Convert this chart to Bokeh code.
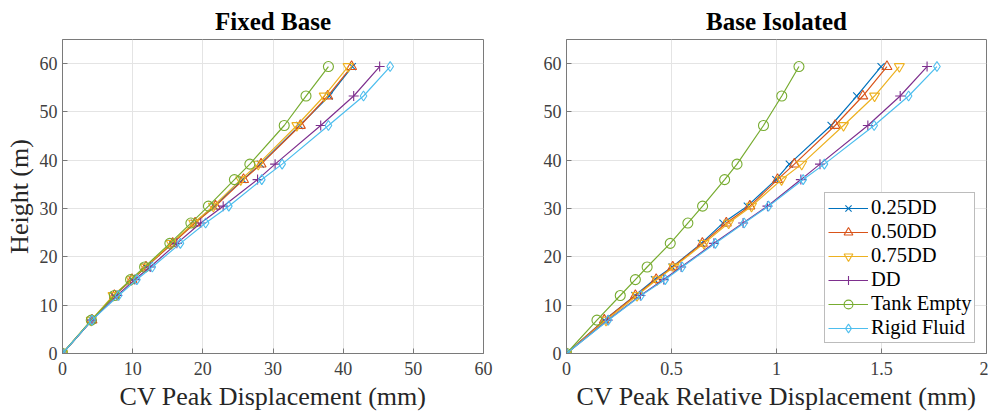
from bokeh.plotting import figure
from bokeh.layouts import row
from bokeh.models import Range1d, FixedTicker, Legend, LegendItem
from bokeh.embed import file_html
from bokeh.resources import INLINE

heights = [0, 6.9, 12.0, 15.3, 17.9, 22.8, 27.0, 30.5, 36.0, 39.2, 47.2, 53.3, 59.4]

series_names = ["0.25DD", "0.50DD", "0.75DD", "DD", "Tank Empty", "Rigid Fluid"]
series_colors = ["#0072BD", "#D95319", "#EDB120", "#7E2F8E", "#77AC30", "#4DBEEE"]
series_markers = ["x", "triangle", "inverted_triangle", "cross", "circle", "diamond"]

fixed_025 = [0, 4.2, 7.3, 9.9, 11.9, 15.6, 18.8, 21.6, 25.7, 28.2, 33.8, 38.0, 41.3]
fixed_050 = [0, 4.2, 7.4, 9.9, 11.9, 15.7, 18.9, 21.8, 25.8, 28.3, 33.9, 37.8, 41.2]
fixed_075 = [0, 4.1, 7.2, 9.8, 11.8, 15.5, 18.7, 21.5, 25.4, 27.9, 33.4, 37.3, 40.7]
fixed_dd = [0, 4.2, 7.8, 10.3, 12.5, 16.3, 19.7, 22.9, 27.8, 30.3, 36.8, 41.5, 45.2]
fixed_empty = [0, 4.1, 7.4, 9.7, 11.7, 15.3, 18.3, 20.8, 24.5, 26.7, 31.6, 34.7, 37.9]
fixed_rigid = [0, 4.2, 8.0, 10.6, 12.8, 16.8, 20.4, 23.7, 28.4, 31.3, 37.9, 42.9, 46.7]

iso_025 = [0, 0.180, 0.326, 0.419, 0.503, 0.642, 0.745, 0.861, 0.997, 1.061, 1.260, 1.382, 1.498]
iso_050 = [0, 0.180, 0.328, 0.427, 0.506, 0.647, 0.761, 0.873, 1.005, 1.085, 1.279, 1.411, 1.526]
iso_075 = [0, 0.188, 0.336, 0.431, 0.511, 0.655, 0.772, 0.881, 1.024, 1.120, 1.319, 1.467, 1.585]
iso_dd = [0, 0.196, 0.352, 0.463, 0.546, 0.702, 0.841, 0.957, 1.116, 1.207, 1.435, 1.589, 1.717]
iso_empty = [0, 0.145, 0.256, 0.328, 0.384, 0.494, 0.578, 0.648, 0.753, 0.812, 0.938, 1.025, 1.107]
iso_rigid = [0, 0.199, 0.355, 0.470, 0.551, 0.709, 0.846, 0.962, 1.127, 1.228, 1.465, 1.629, 1.764]

fixed_series = [fixed_025, fixed_050, fixed_075, fixed_dd, fixed_empty, fixed_rigid]
iso_series = [iso_025, iso_050, iso_075, iso_dd, iso_empty, iso_rigid]

FONT = "Liberation Serif"
AXIS_COL = "#7a7a7a"
TEXT_COL = "#262626"


def style(p, xlabel, ylabel, xticks, xtick_labels):
    p.title.text_font = FONT
    p.title.text_font_size = "25px"
    p.title.text_font_style = "bold"
    p.title.align = "center"
    p.title.text_color = "black"
    p.outline_line_color = AXIS_COL
    p.outline_line_width = 1
    p.xaxis.ticker = FixedTicker(ticks=xticks)
    p.xaxis.major_label_overrides = {t: l for t, l in zip(xticks, xtick_labels)}
    p.yaxis.ticker = FixedTicker(ticks=[0, 10, 20, 30, 40, 50, 60])
    for ax in (p.xaxis[0], p.yaxis[0]):
        ax.axis_line_color = AXIS_COL
        ax.major_tick_line_color = AXIS_COL
        ax.major_tick_in = 5
        ax.major_tick_out = 0
        ax.minor_tick_line_color = None
        ax.major_label_text_font = FONT
        ax.major_label_text_font_size = "18px"
        ax.major_label_text_font_style = "normal"
        ax.major_label_text_color = "#404040"
        ax.axis_label_text_font = FONT
        ax.axis_label_text_font_size = "26px"
        ax.axis_label_text_font_style = "normal"
        ax.axis_label_text_color = TEXT_COL
    p.xaxis.axis_label = xlabel
    p.xaxis.major_label_standoff = 8
    p.xaxis.axis_label_standoff = 4
    p.yaxis.major_label_standoff = 5
    p.yaxis.axis_label_standoff = 3
    if ylabel:
        p.yaxis.axis_label = ylabel
    p.grid.grid_line_color = "#e4e4e4"
    p.grid.grid_line_width = 1


p1 = figure(output_backend="svg", toolbar_location=None, title="Fixed Base",
            frame_width=421, frame_height=314,
            min_border_left=62, min_border_right=12, min_border_top=39, min_border_bottom=60,
            x_range=Range1d(0, 60), y_range=Range1d(0, 65))
style(p1, "CV Peak Displacement (mm)", "Height (m)",
      [0, 10, 20, 30, 40, 50, 60], ["0", "10", "20", "30", "40", "50", "60"])

p2 = figure(output_backend="svg", toolbar_location=None, title="Base Isolated",
            frame_width=420, frame_height=314,
            min_border_left=71, min_border_right=2, min_border_top=39, min_border_bottom=60,
            x_range=Range1d(0, 2), y_range=Range1d(0, 65))
style(p2, "CV Peak Relative Displacement (mm)", None,
      [0, 0.5, 1, 1.5, 2], ["0", "0.5", "1", "1.5", "2"])

items = []
for name, color, marker, fx, ix in zip(series_names, series_colors, series_markers,
                                      fixed_series, iso_series):
    p1.line(fx, heights, line_color=color, line_width=1.2)
    p1.scatter(fx, heights, marker=marker, size=10, line_color=color,
               fill_color=None, line_width=1.1)
    lr = p2.line(ix, heights, line_color=color, line_width=1.2)
    sr = p2.scatter(ix, heights, marker=marker, size=10, line_color=color,
                    fill_color=None, line_width=1.1)
    items.append(LegendItem(label=name, renderers=[lr, sr]))

legend = Legend(items=items, location=(258, 10))
legend.label_text_font = FONT
legend.label_text_font_size = "20.5px"
legend.label_text_font_style = "normal"
legend.label_text_color = "black"
legend.label_height = 22
legend.glyph_height = 22
legend.glyph_width = 40
legend.label_standoff = 3
legend.spacing = 1
legend.padding = 3
legend.margin = 0
legend.border_line_color = AXIS_COL
legend.border_line_width = 1
legend.background_fill_color = "white"
legend.background_fill_alpha = 1
p2.add_layout(legend, "center")

layout = row(p1, p2)
open("out.html", "w").write(file_html(layout, INLINE))
